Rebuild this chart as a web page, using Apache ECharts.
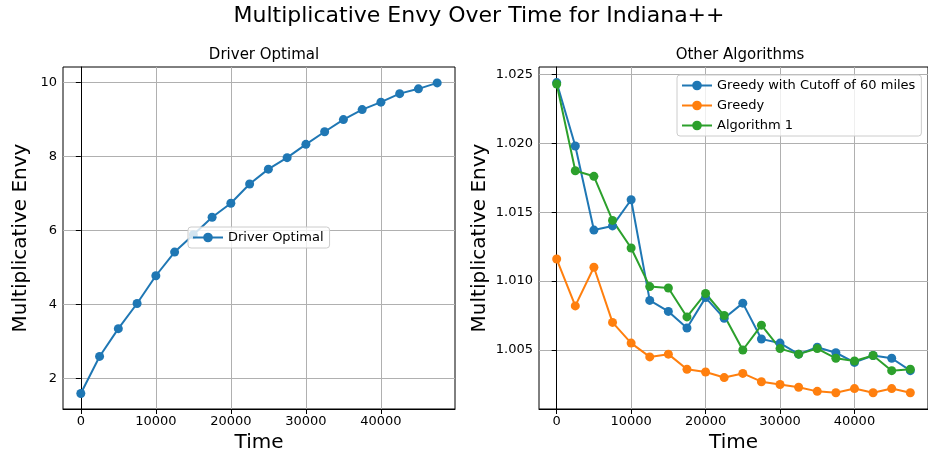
<!DOCTYPE html>
<html>
<head>
<meta charset="utf-8">
<script src="https://cdn.jsdelivr.net/npm/echarts@6/dist/echarts.min.js"></script>
<style>
html,body{margin:0;padding:0;background:#fff;}
#chart{width:928px;height:459px;}
</style>
</head>
<body>
<div id="chart"></div>
<script>
const times = [0,2500,5000,7500,10000,12500,15000,17500,20000,22500,25000,27500,30000,32500,35000,37500,40000,42500,45000,47500];
const driverOptimal = [1.60,2.60,3.35,4.03,4.78,5.42,5.89,6.36,6.74,7.26,7.66,7.97,8.33,8.67,9.00,9.27,9.47,9.70,9.83,9.99];
const greedyCutoff = [1.0244,1.0198,1.0137,1.0140,1.0159,1.0086,1.0078,1.0066,1.0088,1.0073,1.0084,1.0058,1.0055,1.0047,1.0052,1.0048,1.0041,1.0046,1.0044,1.0035];
const greedy = [1.0116,1.0082,1.0110,1.0070,1.0055,1.0045,1.0047,1.0036,1.0034,1.0030,1.0033,1.0027,1.0025,1.0023,1.0020,1.0019,1.0022,1.0019,1.0022,1.0019];
const algorithm1 = [1.0243,1.0180,1.0176,1.0144,1.0124,1.0096,1.0095,1.0074,1.0091,1.0075,1.0050,1.0068,1.0051,1.0047,1.0051,1.0044,1.0042,1.0046,1.0035,1.0036];
const xTicks = [0,10000,20000,30000,40000];
const leftYTicks = [2,4,6,8,10];
const rightYTicks = [1.005,1.010,1.015,1.020,1.025];

const pair = arr => arr.map((v,i)=>[times[i], v]);
const FONT = 'DejaVu Sans';
const gridLine = {show:true, lineStyle:{color:'#b0b0b0', width:1}};

function xAxis(gridIndex){
  return {
    type:'value', gridIndex, min:-2375, max:49875,
    name:'Time', nameLocation:'middle', nameGap:24,
    nameTextStyle:{fontFamily:FONT, fontSize:20, color:'#000'},
    axisLine:{show:true, lineStyle:{color:'#000'}},
    axisTick:{show:true, customValues:xTicks, length:5, lineStyle:{color:'#000'}},
    axisLabel:{customValues:xTicks, fontFamily:FONT, fontSize:13, color:'#000', margin:6, formatter:v=>String(v)},
    splitLine:gridLine
  };
}
function yAxis(gridIndex, min, max, ticks, fmt, gap){
  return {
    type:'value', gridIndex, min, max,
    name:'Multiplicative Envy', nameLocation:'middle', nameGap:gap, nameRotate:90,
    nameTextStyle:{fontFamily:FONT, fontSize:20, color:'#000'},
    axisLine:{show:true, lineStyle:{color:'#000'}},
    axisTick:{show:true, customValues:ticks, length:5, lineStyle:{color:'#000'}},
    axisLabel:{customValues:ticks, fontFamily:FONT, fontSize:13, color:'#000', margin:6, formatter:fmt},
    splitLine:gridLine
  };
}
function line(name, data, color, xi, yi){
  return {
    name, type:'line', xAxisIndex:xi, yAxisIndex:yi, data:pair(data),
    symbol:'circle', symbolSize:9, color:color,
    lineStyle:{width:2, color:color}, itemStyle:{color:color},
    emphasis:{disabled:true}, animation:false
  };
}
const legendBase = {
  orient:'vertical', itemWidth:30, itemHeight:12,
  padding:[4,6,4,4], backgroundColor:'rgba(255,255,255,0.8)', borderColor:'#cccccc', borderWidth:1, borderRadius:3,
  textStyle:{fontFamily:FONT, fontSize:13, color:'#000'}
};

const chart = echarts.init(document.getElementById('chart'), null, {renderer:'canvas'});
chart.setOption({
  animation:false,
  backgroundColor:'#fff',
  title:[
    {text:'Multiplicative Envy Over Time for Indiana++', left:474, top:0, textAlign:'center',
     textStyle:{fontFamily:FONT, fontSize:22, fontWeight:'normal', color:'#000'}},
    {text:'Driver Optimal', left:259, top:43, textAlign:'center',
     textStyle:{fontFamily:FONT, fontSize:15, fontWeight:'normal', color:'#000'}},
    {text:'Other Algorithms', left:735, top:43, textAlign:'center',
     textStyle:{fontFamily:FONT, fontSize:15, fontWeight:'normal', color:'#000'}}
  ],
  grid:[
    {left:63, top:67, width:392, height:342, show:true, borderColor:'#000', borderWidth:1, backgroundColor:'transparent'},
    {left:539, top:67, width:392, height:342, show:true, borderColor:'#000', borderWidth:1, backgroundColor:'transparent'}
  ],
  xAxis:[xAxis(0), xAxis(1)],
  yAxis:[
    yAxis(0, 1.18, 10.42, leftYTicks, v=>String(v), 32),
    yAxis(1, 1.00072, 1.02553, rightYTicks, v=>v.toFixed(3), 49)
  ],
  legend:[
    Object.assign({}, legendBase, {data:['Driver Optimal'], left:188, top:227, itemGap:6}),
    Object.assign({}, legendBase, {data:['Greedy with Cutoff of 60 miles','Greedy','Algorithm 1'], left:677, top:75, itemGap:7})
  ],
  series:[
    line('Driver Optimal', driverOptimal, '#1f77b4', 0, 0),
    line('Greedy with Cutoff of 60 miles', greedyCutoff, '#1f77b4', 1, 1),
    line('Greedy', greedy, '#ff7f0e', 1, 1),
    line('Algorithm 1', algorithm1, '#2ca02c', 1, 1)
  ]
});
</script>
</body>
</html>
